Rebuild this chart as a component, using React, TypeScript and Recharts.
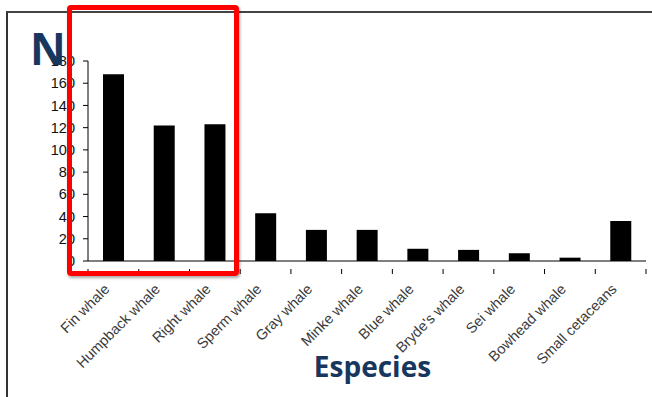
import React from "react"
import { BarChart, Bar, XAxis, YAxis } from "recharts"

// Strandings / records per species
const species = [
  "Fin whale",
  "Humpback whale",
  "Right whale",
  "Sperm whale",
  "Gray whale",
  "Minke whale",
  "Blue whale",
  "Bryde's whale",
  "Sei whale",
  "Bowhead whale",
  "Small cetaceans",
]
const counts = [168, 122, 123, 43, 28, 28, 11, 10, 7, 3, 36]
const yTicks = [0, 20, 40, 60, 80, 100, 120, 140, 160, 180]

const data = species.map((name, i) => ({ name, value: counts[i] }))

const W = 652
const H = 397
const PLOT_LEFT = 88
const PLOT_RIGHT = 6
const PLOT_TOP = 61
const X_AXIS_H = 136
const band = (W - PLOT_LEFT - PLOT_RIGHT) / species.length

const navy = "#17375e"

const SpeciesTick = ({ x, y, payload, index }: any) => {
  const left = x - band / 2
  const lx = x - 3
  const ly = y + 21
  return (
    <g>
      <line x1={left} y1={y} x2={left} y2={y + 5} stroke="#000" />
      {index === species.length - 1 && (
        <line x1={left + band} y1={y} x2={left + band} y2={y + 5} stroke="#000" />
      )}
      <text
        x={lx}
        y={ly}
        transform={`rotate(-45 ${lx} ${ly})`}
        textAnchor="end"
        fontSize={14.5}
        fontFamily="'Liberation Sans', Arial, sans-serif"
        fill="#3a3a3a"
      >
        {payload.value}
      </text>
    </g>
  )
}

export default function App() {
  return (
    <div
      style={{
        position: "fixed",
        left: 0,
        top: 0,
        width: W,
        height: H,
        background: "#fff",
        overflow: "hidden",
      }}
    >
      {/* slide frame */}
      <div style={{ position: "absolute", left: 6, top: 11, width: W, height: H, borderLeft: "2px solid #333", borderTop: "2px solid #444" }} />

      <BarChart
        width={W}
        height={H}
        data={data}
        margin={{ top: PLOT_TOP, right: PLOT_RIGHT, left: 0, bottom: 0 }}
        barSize={21}
      >
        <XAxis
          dataKey="name"
          height={X_AXIS_H}
          interval={0}
          tickLine={false}
          axisLine={{ stroke: "#000" }}
          tick={<SpeciesTick />}
        />
        <YAxis
          width={PLOT_LEFT}
          domain={[0, 180]}
          ticks={yTicks}
          interval={0}
          tickSize={5}
          tickMargin={8}
          axisLine={{ stroke: "#000" }}
          tickLine={{ stroke: "#000" }}
          tick={{ fontSize: 14.5, fill: "#111", fontFamily: "'Liberation Sans', Arial, sans-serif" }}
        />
        <Bar dataKey="value" fill="#000" isAnimationActive={false} />
      </BarChart>

      <div
        style={{
          position: "absolute",
          left: 30,
          top: 18,
          fontFamily: "'Open Sans', sans-serif",
          fontWeight: 700,
          fontSize: 44,
          lineHeight: "60px",
          color: navy,
        }}
      >
        N
      </div>
      <div
        style={{
          position: "absolute",
          left: 0,
          width: 745,
          top: 346,
          textAlign: "center",
          fontFamily: "'Open Sans', sans-serif",
          fontWeight: 700,
          fontSize: 28,
          lineHeight: "40px",
          color: navy,
        }}
      >
        Especies
      </div>

      {/* highlight around the three largest groups */}
      <div
        style={{
          position: "absolute",
          left: 67,
          top: 5,
          width: 162,
          height: 261,
          border: "5px solid #ff0000",
          borderRadius: 4,
          boxShadow: "1px 2px 3px rgba(0,0,0,0.35)",
        }}
      />
    </div>
  )
}
